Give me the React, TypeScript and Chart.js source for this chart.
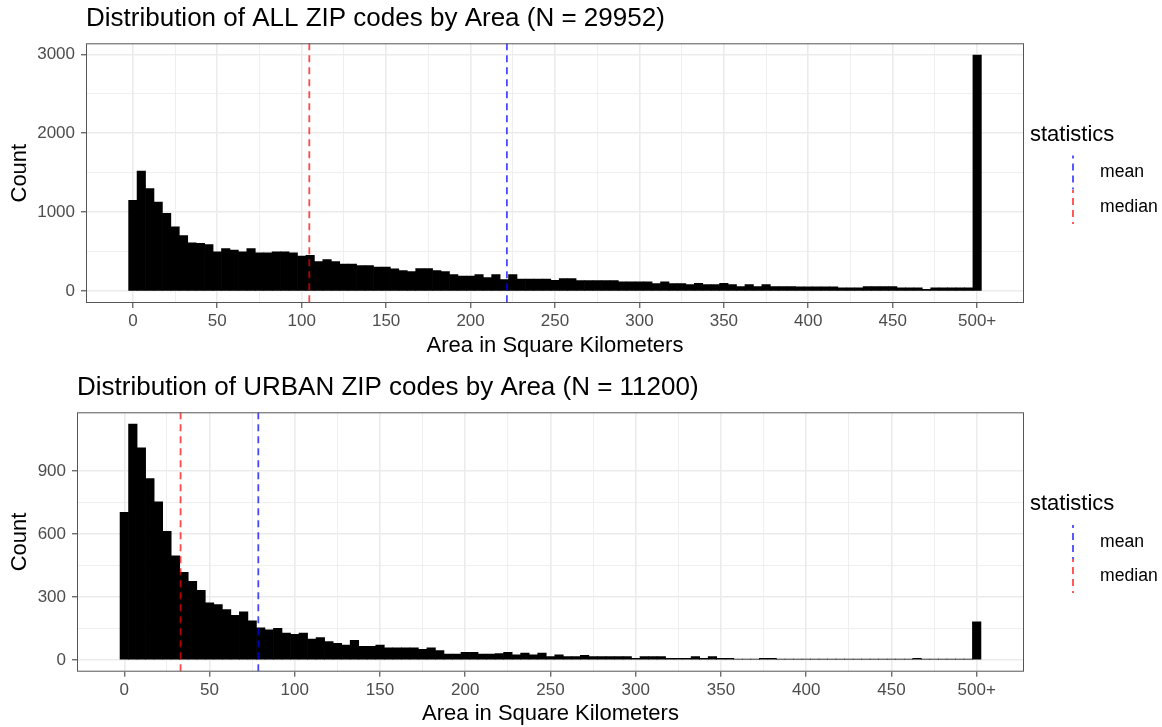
import React, { useEffect, useRef } from 'react';
import { Chart, registerables } from 'chart.js';

Chart.register(...registerables);

const FONT = '"Liberation Sans", Arial, Helvetica, sans-serif';

// Bin centres (width 5 km²); the last bin collects everything 500 and above.
const binCenters = [
  0, 5, 10, 15, 20, 25, 30, 35, 40, 45, 50, 55, 60, 65, 70, 75, 80, 85, 90, 95,
  100, 105, 110, 115, 120, 125, 130, 135, 140, 145, 150, 155, 160, 165, 170, 175, 180, 185, 190, 195,
  200, 205, 210, 215, 220, 225, 230, 235, 240, 245, 250, 255, 260, 265, 270, 275, 280, 285, 290, 295,
  300, 305, 310, 315, 320, 325, 330, 335, 340, 345, 350, 355, 360, 365, 370, 375, 380, 385, 390, 395,
  400, 405, 410, 415, 420, 425, 430, 435, 440, 445, 450, 455, 460, 465, 470, 475, 480, 485, 490, 495,
  500,
];

const allCounts = [
  1150, 1520, 1300, 1130, 985, 815, 705, 612, 605, 590, 500, 540, 520, 498, 540, 485, 485, 498, 498, 485,
  445, 455, 376, 401, 376, 342, 342, 325, 325, 304, 304, 283, 262, 249, 287, 287, 262, 249, 211, 190,
  190, 211, 173, 211, 148, 211, 152, 152, 152, 155, 139, 160, 160, 135, 135, 135, 135, 135, 118, 118,
  118, 118, 97, 118, 97, 97, 84, 101, 84, 84, 101, 84, 59, 84, 59, 84, 59, 59, 59, 55,
  55, 55, 55, 55, 42, 42, 42, 59, 59, 59, 59, 42, 42, 42, 25, 42, 42, 42, 42, 42,
  2990,
];

const urbanCounts = [
  703, 1124, 1011, 864, 753, 613, 496, 418, 374, 332, 272, 264, 240, 213, 229, 186, 153, 143, 150, 128,
  122, 128, 99, 107, 87, 79, 71, 93, 65, 65, 71, 58, 58, 58, 58, 51, 58, 44, 28, 28,
  36, 36, 28, 28, 30, 36, 24, 32, 24, 32, 16, 24, 16, 16, 22, 16, 16, 16, 16, 16,
  8, 16, 16, 16, 8, 8, 8, 16, 8, 16, 8, 8, 3, 3, 3, 8, 8, 3, 3, 3,
  3, 3, 3, 3, 3, 3, 3, 3, 3, 3, 3, 3, 3, 8, 3, 3, 3, 3, 3, 3,
  182,
];

const xTickValues = [0, 50, 100, 150, 200, 250, 300, 350, 400, 450, 500];
const xTickLabels = ['0', '50', '100', '150', '200', '250', '300', '350', '400', '450', '500+'];
const allYTicks = [0, 1000, 2000, 3000];
const urbanYTicks = [0, 300, 600, 900];

const allMean = 221.5;
const allMedian = 104.5;
const urbanMean = 78.6;
const urbanMedian = 33;

const allTitle = 'Distribution of ALL ZIP codes by Area (N = 29952)';
const urbanTitle = 'Distribution of URBAN ZIP codes by Area (N = 11200)';

type PanelProps = {
  title: string;
  counts: number[];
  yTicks: number[];
  yMin: number;
  yMax: number;
  mean: number;
  median: number;
  width: number;
  height: number;
  yWidth: number;
  xHeight: number;
  titlePadTop: number;
  titlePadBottom: number;
  xTitlePadBottom: number;
  legendTitleY: number;
  legendMeanY: number;
  legendMedianY: number;
};

function withMinor(major: number[]): { value: number; major: boolean }[] {
  const out: { value: number; major: boolean }[] = [];
  for (let i = 0; i < major.length; i++) {
    out.push({ value: major[i], major: true });
    if (i < major.length - 1) out.push({ value: (major[i] + major[i + 1]) / 2, major: false });
  }
  return out;
}

const MEAN_COLOR = 'rgba(0,0,255,0.72)';
const MEDIAN_COLOR = 'rgba(255,0,0,0.72)';

function Panel(p: PanelProps) {
  const ref = useRef<HTMLCanvasElement | null>(null);

  useEffect(() => {
    if (!ref.current) return;
    const xAll = withMinor(xTickValues);
    const yAll = withMinor(p.yTicks);
    const isMajorX = (v: number) => xTickValues.indexOf(v) >= 0;
    const isMajorY = (v: number) => p.yTicks.indexOf(v) >= 0;

    const panelPlugin = {
      id: 'panelDecor',
      afterDatasetsDraw(chart: any) {
        const { ctx, chartArea: a, scales } = chart;
        const x = scales.x;
        ctx.save();
        ctx.beginPath();
        ctx.rect(a.left, a.top, a.right - a.left, a.bottom - a.top);
        ctx.clip();
        const lines = [
          { v: p.mean, c: MEAN_COLOR },
          { v: p.median, c: MEDIAN_COLOR },
        ];
        ctx.lineWidth = 1.8;
        ctx.setLineDash([7, 5]);
        for (const l of lines) {
          const px = x.getPixelForValue(l.v);
          ctx.strokeStyle = l.c;
          ctx.beginPath();
          ctx.moveTo(px, a.top);
          ctx.lineTo(px, a.bottom);
          ctx.stroke();
        }
        ctx.restore();
      },
      afterDraw(chart: any) {
        const { ctx, chartArea: a } = chart;
        ctx.save();
        ctx.strokeStyle = '#555555';
        ctx.lineWidth = 1;
        ctx.setLineDash([]);
        ctx.strokeRect(a.left + 0.5, a.top + 0.5, a.right - a.left - 1, a.bottom - a.top - 1);

        // legend
        ctx.fillStyle = '#000';
        ctx.textBaseline = 'middle';
        ctx.textAlign = 'left';
        ctx.font = `22px ${FONT}`;
        ctx.fillText('statistics', 1030, p.legendTitleY);
        const keys = [
          { label: 'mean', c: MEAN_COLOR, y: p.legendMeanY },
          { label: 'median', c: MEDIAN_COLOR, y: p.legendMedianY },
        ];
        for (const k of keys) {
          ctx.strokeStyle = k.c;
          ctx.lineWidth = 1.8;
          ctx.setLineDash([7, 5]);
          ctx.lineDashOffset = 4;
          ctx.beginPath();
          ctx.moveTo(1073, k.y - 17);
          ctx.lineTo(1073, k.y + 17);
          ctx.stroke();
          ctx.setLineDash([]);
          ctx.font = `17.6px ${FONT}`;
          ctx.fillStyle = '#000';
          ctx.fillText(k.label, 1100, k.y);
        }
        ctx.restore();
      },
    };

    const chart = new Chart(ref.current, {
      type: 'bar',
      data: {
        datasets: [
          {
            data: binCenters.map((c, i) => ({ x: c, y: p.counts[i] })),
            backgroundColor: '#000000',
            borderWidth: 0,
            categoryPercentage: 1,
            barPercentage: 1,
            grouped: false,
          } as any,
        ],
      },
      options: {
        responsive: false,
        animation: false,
        events: [],
        layout: { padding: { left: 0, right: 138, top: 0, bottom: 0 } },
        plugins: {
          legend: { display: false },
          tooltip: { enabled: false },
          title: {
            display: true,
            text: p.title,
            align: 'start',
            fullSize: false,
            color: '#000000',
            font: { family: FONT, size: 26, weight: 'normal' },
            padding: { top: p.titlePadTop, bottom: p.titlePadBottom },
          },
        },
        scales: {
          x: {
            type: 'linear',
            min: -27.75,
            max: 527.75,
            offset: false,
            afterBuildTicks: (s: any) => {
              s.ticks = xAll.map((t) => ({ value: t.value }));
            },
            afterFit: (s: any) => {
              s.height = p.xHeight;
            },
            ticks: {
              autoSkip: false,
              maxRotation: 0,
              minRotation: 0,
              padding: 3,
              color: '#4d4d4d',
              font: { family: FONT, size: 17 },
              callback: (v: any) => {
                const i = xTickValues.indexOf(Number(v));
                return i >= 0 ? xTickLabels[i] : '';
              },
            },
            grid: {
              offset: false,
              color: '#ebebeb',
              lineWidth: (ctx: any) => (ctx.tick && isMajorX(ctx.tick.value) ? 1.6 : 0.8),
              tickColor: (ctx: any) => (ctx.tick && isMajorX(ctx.tick.value) ? '#333333' : 'rgba(0,0,0,0)'),
              tickLength: 5,
              tickWidth: 1,
            },
            border: { display: false },
            title: {
              display: true,
              text: 'Area in Square Kilometers',
              color: '#000000',
              font: { family: FONT, size: 22 },
              padding: { top: 0, bottom: p.xTitlePadBottom },
            },
          },
          y: {
            type: 'linear',
            min: p.yMin,
            max: p.yMax,
            afterBuildTicks: (s: any) => {
              s.ticks = yAll.map((t) => ({ value: t.value }));
            },
            afterFit: (s: any) => {
              s.width = p.yWidth;
            },
            ticks: {
              autoSkip: false,
              padding: 6,
              color: '#4d4d4d',
              font: { family: FONT, size: 17 },
              callback: (v: any) => (isMajorY(Number(v)) ? String(v) : ''),
            },
            grid: {
              color: '#ebebeb',
              lineWidth: (ctx: any) => (ctx.tick && isMajorY(ctx.tick.value) ? 1.6 : 0.8),
              tickColor: (ctx: any) => (ctx.tick && isMajorY(ctx.tick.value) ? '#333333' : 'rgba(0,0,0,0)'),
              tickLength: 5,
              tickWidth: 1,
            },
            border: { display: false },
            title: {
              display: true,
              text: 'Count',
              color: '#000000',
              font: { family: FONT, size: 22 },
              padding: { top: 7, bottom: 0 },
            },
          },
        },
      } as any,
      plugins: [panelPlugin],
    });
    return () => chart.destroy();
  }, []);

  return (
    <canvas
      ref={ref}
      width={p.width}
      height={p.height}
      style={{ display: 'block', width: p.width, height: p.height }}
    />
  );
}

export default function App() {
  return (
    <div style={{ position: 'absolute', left: 0, top: 0, width: 1162, height: 727, background: '#ffffff' }}>
      <Panel
        title={allTitle}
        counts={allCounts}
        yTicks={allYTicks}
        yMin={-149.5}
        yMax={3139.5}
        mean={allMean}
        median={allMedian}
        width={1162}
        height={363}
        yWidth={86}
        xHeight={60}
        titlePadTop={3.4}
        titlePadBottom={8.7}
        xTitlePadBottom={3.8}
        legendTitleY={135}
        legendMeanY={172.5}
        legendMedianY={207}
      />
      <Panel
        title={urbanTitle}
        counts={urbanCounts}
        yTicks={urbanYTicks}
        yMin={-56.2}
        yMax={1180.2}
        mean={urbanMean}
        median={urbanMedian}
        width={1162}
        height={364}
        yWidth={77}
        xHeight={55.3}
        titlePadTop={9.4}
        titlePadBottom={8.7}
        xTitlePadBottom={0}
        legendTitleY={141}
        legendMeanY={179}
        legendMedianY={213}
      />
    </div>
  );
}
